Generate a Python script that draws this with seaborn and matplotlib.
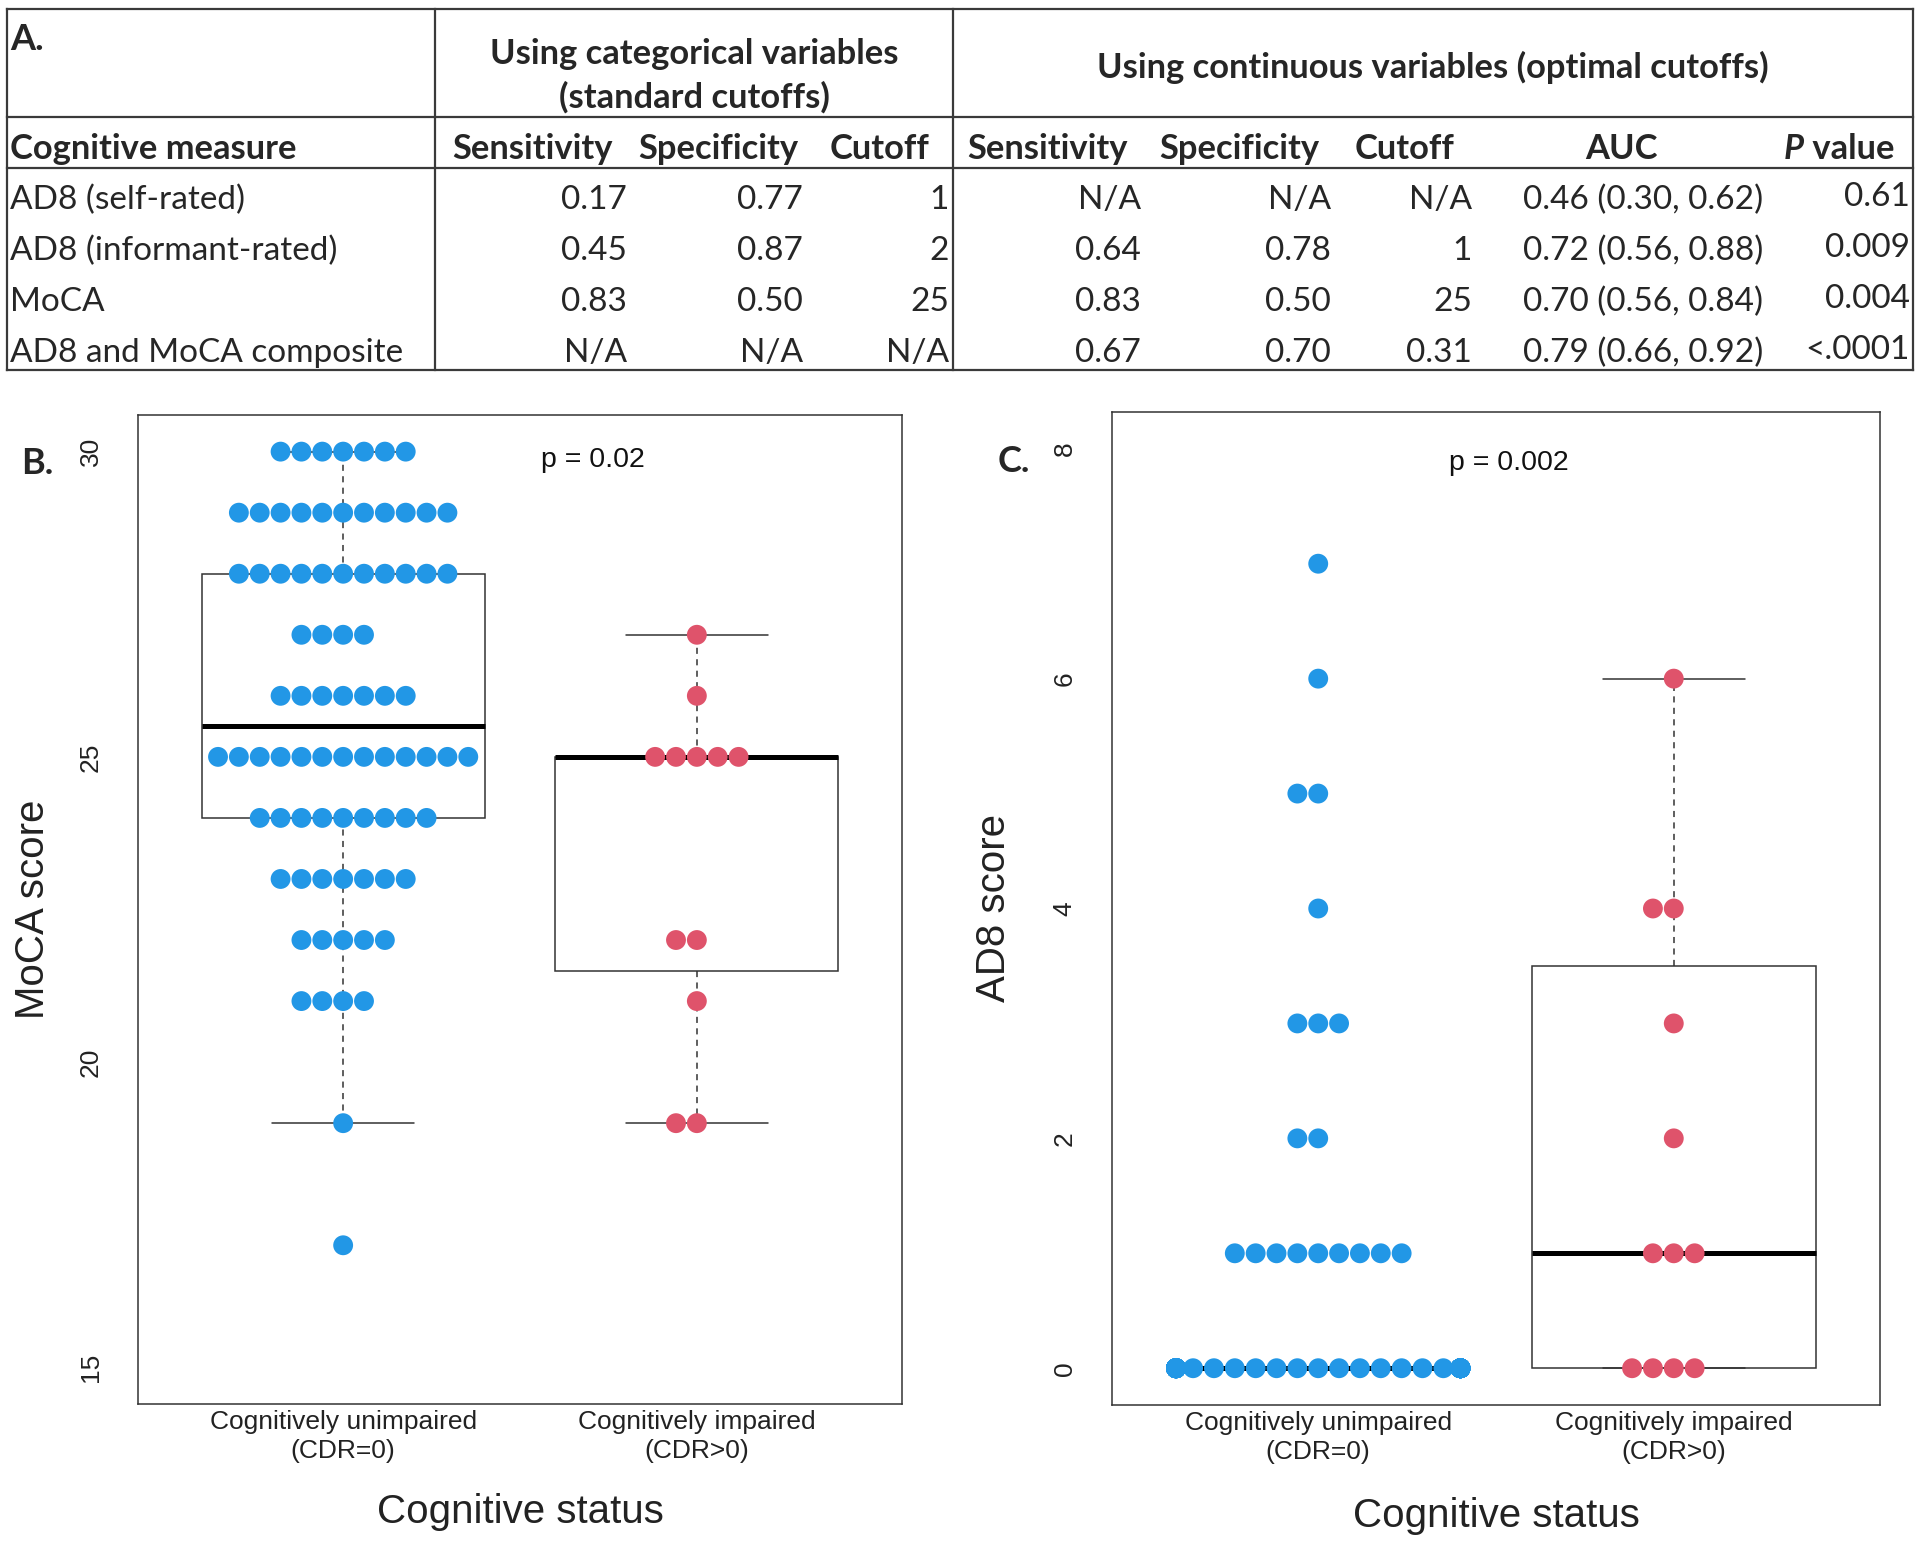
import warnings
import numpy as np
import pandas as pd
import matplotlib
matplotlib.use("Agg")
import matplotlib.pyplot as plt
import seaborn as sns

warnings.filterwarnings("ignore")

# ---------------- panel A: table ----------------
measures = ["AD8 (self-rated)", "AD8 (informant-rated)", "MoCA", "AD8 and MoCA composite"]
cat_sensitivity = ["0.17", "0.45", "0.83", "N/A"]
cat_specificity = ["0.77", "0.87", "0.50", "N/A"]
cat_cutoff = ["1", "2", "25", "N/A"]
cont_sensitivity = ["N/A", "0.64", "0.83", "0.67"]
cont_specificity = ["N/A", "0.78", "0.50", "0.70"]
cont_cutoff = ["N/A", "1", "25", "0.31"]
auc = ["0.46 (0.30, 0.62)", "0.72 (0.56, 0.88)", "0.70 (0.56, 0.84)", "0.79 (0.66, 0.92)"]
p_values = ["0.61", "0.009", "0.004", "<.0001"]

# ---------------- panels B and C: score -> number of participants ----------------
groups = ["Cognitively unimpaired\n(CDR=0)", "Cognitively impaired\n(CDR>0)"]

moca_unimp_scores = [30, 29, 28, 27, 26, 25, 24, 23, 22, 21, 19, 17]
moca_unimp_counts = [7, 11, 11, 4, 7, 13, 9, 7, 5, 4, 1, 1]
moca_imp_scores = [27, 26, 25, 22, 21, 19]
moca_imp_counts = [1, 1, 5, 2, 1, 2]
moca_p = "p = 0.02"

ad8_unimp_scores = [7, 6, 5, 4, 3, 2, 1, 0]
ad8_unimp_counts = [1, 1, 2, 1, 3, 2, 9, 61]
ad8_imp_scores = [6, 4, 3, 2, 1, 0]
ad8_imp_counts = [1, 2, 1, 1, 3, 4]
ad8_p = "p = 0.002"

blue = "#2297E6"
red = "#DF536B"
line_col = "#333333"


def long_table(u_sc, u_ct, i_sc, i_ct):
    rows = []
    for g, sc, ct in [(groups[0], u_sc, u_ct), (groups[1], i_sc, i_ct)]:
        for s, c in zip(sc, ct):
            rows += [(g, s)] * c
    return pd.DataFrame(rows, columns=["status", "score"])


def tukey_stats(x):
    # hinges as in R's boxplot (fivenum)
    x = np.sort(np.asarray(x, float))
    n = len(x)
    n4 = np.floor((n + 3) / 2) / 2
    d = np.array([1, n4, (n + 1) / 2, n + 1 - n4, n]) - 1
    fn = 0.5 * (x[np.floor(d).astype(int)] + x[np.ceil(d).astype(int)])
    iqr = fn[3] - fn[1]
    lo = x[x >= fn[1] - 1.5 * iqr].min()
    hi = x[x <= fn[3] + 1.5 * iqr].max()
    return dict(med=fn[2], q1=fn[1], q3=fn[3], whislo=lo, whishi=hi, fliers=[])


def draw_panel(ax, df, ylim, yticks, ylabel, ylab_x, xlab_y, ptext, pxy):
    stats = [tukey_stats(df.loc[df.status == g, "score"]) for g in groups]
    ax.bxp(stats, positions=[0, 1], widths=0.8, capwidths=0.4, showfliers=False,
           patch_artist=True, manage_ticks=False, zorder=1,
           boxprops=dict(facecolor="white", edgecolor=line_col, linewidth=1.1),
           medianprops=dict(color="black", linewidth=3.6, solid_capstyle="butt"),
           whiskerprops=dict(color=line_col, linewidth=1.1, linestyle=(0, (4, 3.5))),
           capprops=dict(color=line_col, linewidth=1.1))
    sns.swarmplot(data=df, x="status", y="score", hue="status", order=groups,
                  hue_order=groups, palette=[blue, red], size=14.3, linewidth=0,
                  legend=False, ax=ax, zorder=3)
    ax.set_xlim(-0.58, 1.58)
    ax.set_ylim(*ylim)
    ax.set_yticks(yticks)
    ax.set_yticklabels([str(t) for t in yticks], rotation=90, va="center")
    ax.set_xticks([0, 1])
    ax.set_xticklabels(groups, linespacing=1.3)
    ax.tick_params(axis="y", length=11.5, width=1.1, pad=14, labelsize=19,
                   color=line_col, labelcolor="#222222")
    ax.tick_params(axis="x", length=11.5, width=1.1, pad=-7.5, labelsize=19,
                   color=line_col, labelcolor="#222222")
    for sp in ax.spines.values():
        sp.set_color(line_col)
        sp.set_linewidth(1.1)
        sp.set_visible(True)
    ax.set_xlabel("Cognitive status", fontsize=29, color="#222222")
    ax.xaxis.set_label_coords(0.5, xlab_y)
    ax.xaxis.label.set_va("center")
    ax.set_ylabel(ylabel, fontsize=29, color="#222222")
    ax.yaxis.set_label_coords(ylab_x, 0.5)
    ax.yaxis.label.set_va("center")
    ax.text(pxy[0], pxy[1], ptext, transform=ax.transAxes, fontsize=20.5,
            ha="center", va="center", color="#111111")


sns.set_theme(style="white")
plt.rcParams["font.family"] = ["Liberation Sans", "DejaVu Sans"]

fig = plt.figure(figsize=(19.2, 15.45), dpi=100)

# overlay in pixel coordinates for the table and panel letters
ov = fig.add_axes([0, 0, 1, 1])
ov.set_xlim(0, 1920)
ov.set_ylim(1545, 0)
ov.axis("off")

tab_font = "Lato"
fs = 24
fsb = 24.8
tl = dict(color="#3a3a3a", lw=1.6, solid_capstyle="projecting")
left, right, top, bottom = 7, 1913, 9, 370
for y in [top, 117, 168, bottom]:
    ov.plot([left, right], [y, y], **tl)
for x in [left, 435, 953, right]:
    ov.plot([x, x], [top, bottom], **tl)

ov.text(10, 40, "A.", family=tab_font, fontsize=26, fontweight="bold", ha="left", va="center")
ov.text(694, 54, "Using categorical variables", family=tab_font, fontsize=fsb,
        fontweight="bold", ha="center", va="center")
ov.text(694, 97, "(standard cutoffs)", family=tab_font, fontsize=fsb,
        fontweight="bold", ha="center", va="center")
ov.text(1433, 67, "Using continuous variables (optimal cutoffs)", family=tab_font,
        fontsize=fsb, fontweight="bold", ha="center", va="center")

head_y = 149
ov.text(10, head_y, "Cognitive measure", family=tab_font, fontsize=fsb,
        fontweight="bold", ha="left", va="center")
headers = [("Sensitivity", 533), ("Specificity", 718), ("Cutoff", 880),
           ("Sensitivity", 1048), ("Specificity", 1239), ("Cutoff", 1405),
           ("AUC", 1621)]
for h, x in headers:
    ov.text(x, head_y, h, family=tab_font, fontsize=fsb, fontweight="bold",
            ha="center", va="center")
p_head = ov.text(1784, head_y, "P", family=tab_font, fontsize=fsb, fontweight="bold",
                 fontstyle="italic", ha="left", va="center")
ov.annotate(" value", xy=(1, 0), xycoords=p_head, family=tab_font, fontsize=fsb,
            fontweight="bold", ha="left", va="bottom")

row_y = [200, 251, 302, 353]
columns = [(cat_sensitivity, 627), (cat_specificity, 803), (cat_cutoff, 949),
           (cont_sensitivity, 1141), (cont_specificity, 1331), (cont_cutoff, 1472),
           (auc, 1763)]
for i, y in enumerate(row_y):
    ov.text(10, y, measures[i], family=tab_font, fontsize=fs, ha="left", va="center")
    for vals, x in columns:
        ov.text(x, y, vals[i], family=tab_font, fontsize=fs, ha="right", va="center")
    ov.text(1910, y - 3, p_values[i], family=tab_font, fontsize=fs, ha="right", va="center")

ov.text(37, 463, "B.", family=tab_font, fontsize=26, fontweight="bold", ha="center", va="center")
ov.text(1014, 462, "C.", family=tab_font, fontsize=26, fontweight="bold", ha="center", va="center")

# panel B
axB = fig.add_axes([138 / 1920, 1 - 1404 / 1545, 764 / 1920, 989 / 1545])
moca_df = long_table(moca_unimp_scores, moca_unimp_counts, moca_imp_scores, moca_imp_counts)
draw_panel(axB, moca_df, (14.4, 30.6), [15, 20, 25, 30], "MoCA score",
           -0.137, -0.109, moca_p, (0.596, 0.955))

# panel C
axC = fig.add_axes([1112 / 1920, 1 - 1405 / 1545, 768 / 1920, 993 / 1545])
ad8_df = long_table(ad8_unimp_scores, ad8_unimp_counts, ad8_imp_scores, ad8_imp_counts)
draw_panel(axC, ad8_df, (-0.32, 8.32), [0, 2, 4, 6, 8], "AD8 score",
           -0.154, -0.112, ad8_p, (0.517, 0.949))

fig.savefig("out.png", dpi=100)
